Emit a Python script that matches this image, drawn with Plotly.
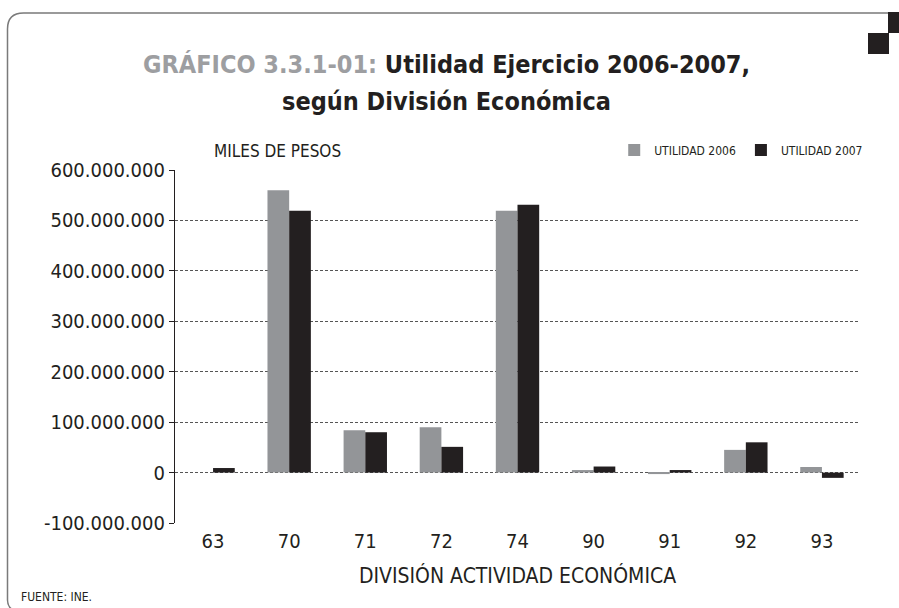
import plotly.graph_objects as go

# data (miles de pesos)
divisiones = ['63', '70', '71', '72', '74', '90', '91', '92', '93']
utilidad_2006 = [0, 560000000, 84000000, 90000000, 519000000, 5000000, -3000000, 45000000, 11000000]
utilidad_2007 = [9000000, 519000000, 80000000, 51000000, 531000000, 12000000, 5000000, 60000000, -10500000]

y_ticks = [-100000000, 0, 100000000, 200000000, 300000000, 400000000, 500000000, 600000000]
y_labels = ['-100.000.000', '0', '100.000.000', '200.000.000', '300.000.000',
            '400.000.000', '500.000.000', '600.000.000']

GRIS = '#939598'
NEGRO = '#231f20'
FONT = 'DejaVu Sans Condensed, Liberation Sans Narrow, sans-serif'

fig = go.Figure()
fig.add_trace(go.Bar(x=divisiones, y=utilidad_2006, name='UTILIDAD 2006',
                     marker=dict(color=GRIS, line=dict(width=0))))
fig.add_trace(go.Bar(x=divisiones, y=utilidad_2007, name='UTILIDAD 2007',
                     marker=dict(color=NEGRO, line=dict(width=0))))

# helpers to place decorations in pixel terms
L, R, T, B = 175, 39, 170, 85
W, H = 899, 608
pw, ph = W - L - R, H - T - B
def px(x): return (x - L) / pw
def py(y): return (H - B - y) / ph

# rounded frame
r = 16
frame = (f'M {px(888)},{py(13)} L {px(7.5 + r)},{py(13)} '
         f'Q {px(7.5)},{py(13)} {px(7.5)},{py(13 + r)} '
         f'L {px(7.5)},{py(600)} Q {px(7.5)},{py(612)} {px(7.5 + r)},{py(612)} '
         f'L {px(888)},{py(612)}')
shapes = [
    dict(type='path', xref='paper', yref='paper', path=frame,
         line=dict(color='#7a7a7a', width=1.5)),
    dict(type='rect', xref='paper', yref='paper', x0=px(888), x1=px(905),
         y0=py(12), y1=py(33), fillcolor=NEGRO, line=dict(width=0)),
    dict(type='rect', xref='paper', yref='paper', x0=px(868), x1=px(889),
         y0=py(33), y1=py(54), fillcolor=NEGRO, line=dict(width=0)),
]

titulo_font = dict(family=FONT, size=25, color=NEGRO, weight='bold')

fig.update_layout(
    width=W, height=H,
    margin=dict(l=L, r=R, t=T, b=B),
    paper_bgcolor='white', plot_bgcolor='white',
    barmode='group', bargap=0.43, bargroupgap=0,
    font=dict(family=FONT, color=NEGRO),
    legend=dict(orientation='h', x=1.012, xanchor='right', y=py(150), yanchor='middle',
                font=dict(size=12, color=NEGRO), itemwidth=30, traceorder='normal',
                bgcolor='rgba(0,0,0,0)'),
    xaxis=dict(type='category', showline=False, ticks='', showgrid=False,
               tickfont=dict(size=20, color=NEGRO), ticklabelstandoff=4,
               title=dict(text='DIVISIÓN ACTIVIDAD ECONÓMICA', font=dict(size=21, color=NEGRO),
                          standoff=16)),
    xaxis2=dict(overlaying='x', anchor='free', position=1 / 7, type='linear',
                range=[-0.5, 8.5], tickvals=[i - 0.5 for i in range(10)],
                showticklabels=False, ticks='outside', ticklen=6, tickcolor=NEGRO,
                tickwidth=1.2, showline=True, linecolor='#9a9a9a', linewidth=1.5,
                showgrid=False, zeroline=False),
    yaxis=dict(range=[-100000000, 600000000], tickvals=y_ticks, ticktext=y_labels,
               showline=True, linecolor=NEGRO, linewidth=1.2, ticks='outside', ticklen=5,
               tickcolor=NEGRO, showgrid=True, gridcolor='#555555', griddash='3px,2px',
               gridwidth=1, zeroline=False, tickfont=dict(size=20, color=NEGRO)),
    shapes=shapes,
    annotations=[
        dict(text=("<span style='color:#9d9ea1'>GRÁFICO 3.3.1-01:</span> "
                   "Utilidad Ejercicio 2006-2007,"),
             xref='paper', yref='paper', x=px(446), y=py(64),
             xanchor='center', yanchor='middle', showarrow=False, font=titulo_font),
        dict(text='según División Económica',
             xref='paper', yref='paper', x=px(446), y=py(101),
             xanchor='center', yanchor='middle', showarrow=False, font=titulo_font),
        dict(text='MILES DE PESOS', xref='paper', yref='paper', x=px(212), y=py(151),
             xanchor='left', yanchor='middle', showarrow=False,
             font=dict(size=17, color=NEGRO)),
        dict(text='FUENTE: INE.', xref='paper', yref='paper', x=px(19), y=py(597),
             xanchor='left', yanchor='middle', showarrow=False,
             font=dict(size=12, color=NEGRO)),
    ],
)

fig.write_html("out.html", config={'displayModeBar': False},
               post_script="document.body.style.margin='0';")
